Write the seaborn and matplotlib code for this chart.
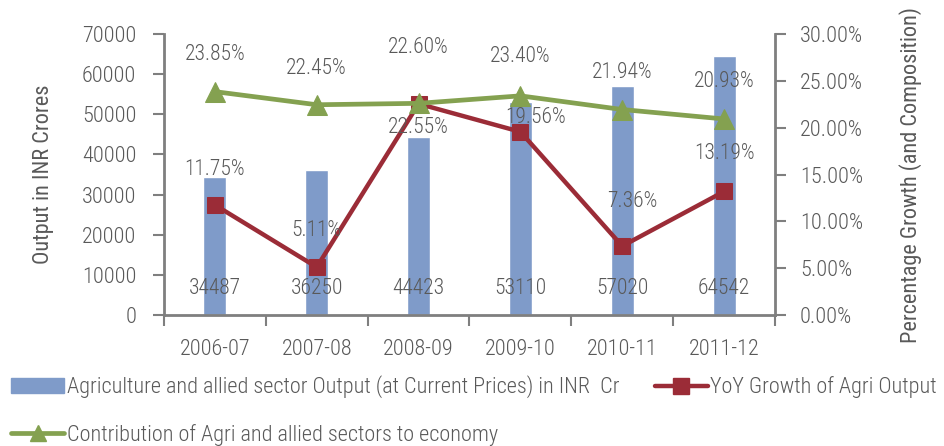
import seaborn as sns
import pandas as pd
import matplotlib.pyplot as plt
import numpy as np
from matplotlib import font_manager as fm
from matplotlib.lines import Line2D
from matplotlib.patches import Patch

years = ["2006-07", "2007-08", "2008-09", "2009-10", "2010-11", "2011-12"]
output_cr = [34487, 36250, 44423, 53110, 57020, 64542]
yoy_growth = [11.75, 5.11, 22.55, 19.56, 7.36, 13.19]
contribution = [23.85, 22.45, 22.60, 23.40, 21.94, 20.93]

bar_col = "#7f9bc9"
red_col = "#9b2c37"
green_col = "#84a150"
txt_col = "#595959"
spine_col = "#7f7f7f"

# pick a narrow font close to the original
have = {f.name for f in fm.fontManager.ttflist}
narrow = "DejaVu Sans"
for cand in ["Roboto Condensed", "Liberation Sans Narrow", "Open Sans Condensed",
             "Archivo Narrow", "PT Sans Narrow", "Encode Sans Condensed"]:
    if cand in have:
        narrow = cand
        break

sns.set_style("white")
plt.rcParams["font.family"] = [narrow, "DejaVu Sans"]
plt.rcParams["font.weight"] = "light"
plt.rcParams["font.size"] = 16

df = pd.DataFrame({"year": years, "output": output_cr})

fig = plt.figure(figsize=(9.44, 4.46), dpi=100)
ax = fig.add_axes([0.1737, 0.2937, 0.6473, 0.63])
sns.barplot(data=df, x="year", y="output", color=bar_col, width=0.226,
            saturation=1, ax=ax, zorder=2)
ax.set_ylim(0, 70000)
ax.set_xlim(-0.5, 5.5)
ax.set_yticks(range(0, 70001, 10000))
ax.set_ylabel("Output in INR Crores", color=txt_col, labelpad=20)
ax.set_xlabel("")

# tick marks at category boundaries, labels at centres
ax.set_xticks(np.arange(-0.5, 6, 1))
ax.set_xticklabels([])
ax.set_xticks(range(6), minor=True)
ax.set_xticklabels(years, minor=True)
ax.tick_params(axis="x", which="major", length=8, width=1.5, color=spine_col, direction="out", bottom=True)
ax.tick_params(axis="x", which="minor", length=0, pad=17, labelcolor=txt_col)
ax.tick_params(axis="y", length=8, width=1.5, color=spine_col, direction="out", left=True,
               labelcolor=txt_col, pad=12)

for s in ["top", "right"]:
    ax.spines[s].set_visible(False)
for s in ["left", "bottom"]:
    ax.spines[s].set_color(spine_col)
    ax.spines[s].set_linewidth(2)

for i, v in enumerate(output_cr):
    ax.annotate(str(v), (i, 0), xytext=(0, 27), textcoords="offset pixels",
                ha="center", va="center", color=txt_col, fontsize=15.5, zorder=5)

ax2 = ax.twinx()
idx = list(range(6))
sns.lineplot(x=idx, y=yoy_growth, ax=ax2, color=red_col, linewidth=3.2,
             marker="s", markersize=12, markeredgecolor=red_col, zorder=3)
sns.lineplot(x=idx, y=contribution, ax=ax2, color=green_col, linewidth=3.4,
             marker="^", markersize=15, markeredgecolor=green_col, zorder=4)
ax2.set_ylim(0, 30)
ax2.set_xlim(-0.5, 5.5)
ax2.set_yticks(range(0, 31, 5))
ax2.set_yticklabels([f"{v:.2f}%" for v in range(0, 31, 5)])
ax2.set_ylabel("Percentage Growth (and Composition)", color=txt_col, labelpad=26)
ax2.tick_params(axis="y", length=8, width=1.5, color=spine_col, direction="out", right=True,
                labelcolor=txt_col, pad=10)
for s in ["top", "left", "bottom"]:
    ax2.spines[s].set_visible(False)
ax2.spines["right"].set_color(spine_col)
ax2.spines["right"].set_linewidth(2)

red_off = [(0, 35), (0, 37), (0, -24), (15, 14), (10, 45), (0, 38)]
green_off = [(0, 37), (0, 36), (0, 56), (0, 39), (0, 37), (0, 37)]
for i, v in enumerate(yoy_growth):
    ax2.annotate(f"{v:.2f}%", (i, v), xytext=red_off[i], textcoords="offset pixels",
                 ha="center", va="center", color=txt_col, fontsize=15.5, zorder=6)
for i, v in enumerate(contribution):
    ax2.annotate(f"{v:.2f}%", (i, v), xytext=green_off[i], textcoords="offset pixels",
                 ha="center", va="center", color=txt_col, fontsize=15.5, zorder=6)

handles = [
    Patch(facecolor=bar_col, edgecolor=bar_col),
    Line2D([], [], color=green_col, linewidth=3.4, marker="^", markersize=12),
    Line2D([], [], color=red_col, linewidth=3.2, marker="s", markersize=11),
]
labels = [
    "Agriculture and allied sector Output (at Current Prices) in INR  Cr",
    "Contribution of Agri and allied sectors to economy",
    "YoY Growth of Agri Output",
]
fig.legend(handles, labels, loc="upper left", bbox_to_anchor=(0.007, 0.168),
           ncol=2, frameon=False, fontsize=16, labelcolor=txt_col,
           handlelength=2.4, handletextpad=0.1, columnspacing=1.6,
           labelspacing=1.15, borderaxespad=0.0, borderpad=0.2)

fig.savefig("out.png", dpi=100)
